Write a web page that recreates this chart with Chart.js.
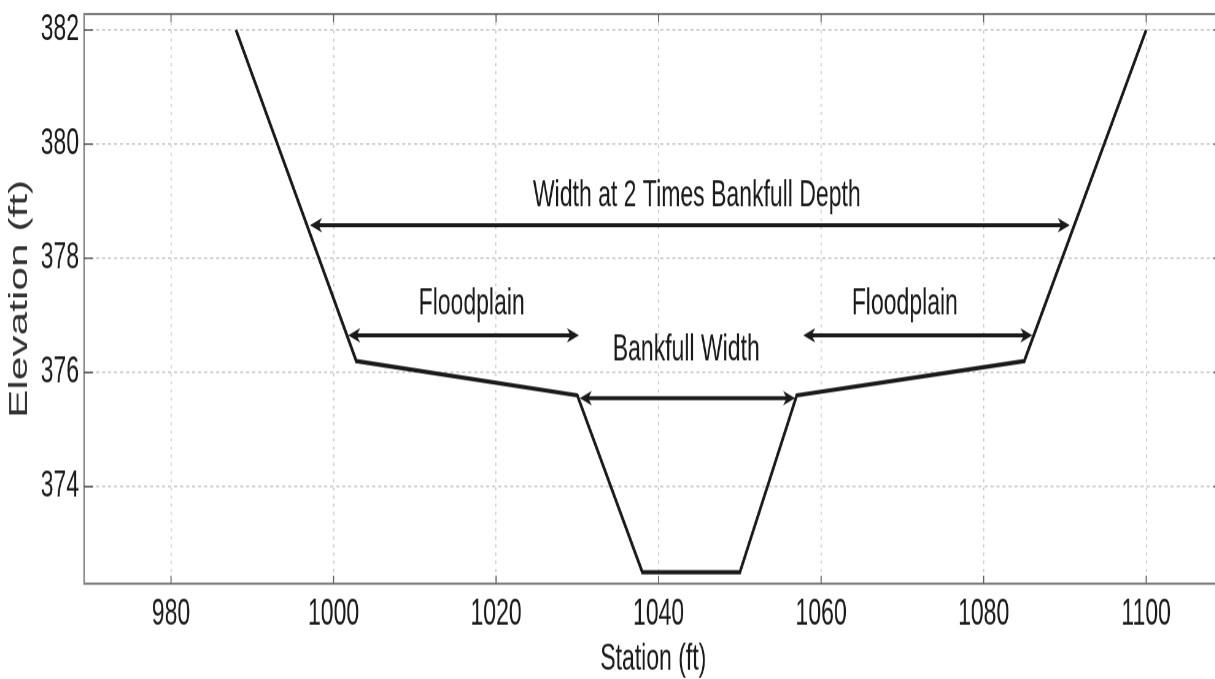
<!DOCTYPE html>
<html>
<head>
<meta charset="utf-8">
<script src="https://cdn.jsdelivr.net/npm/chart.js@4"></script>
<style>
  html, body { margin: 0; padding: 0; background: #fff; }
  #page { width: 1215px; height: 679px; overflow: hidden; position: relative; }
  /* the source figure was stretched vertically, so the whole chart is too */
  #wrap {
    position: absolute;
    left: 0; top: 0;
    width: 1230px;
    height: 416.6px;
    transform: scaleY(1.63);
    transform-origin: 0 0;
  }
</style>
</head>
<body>
<div id="page"><div id="wrap"><canvas id="xsec"></canvas></div></div>
<script>
/* ── Channel cross-section data ───────────────────────────────── */
const stations   = [988, 1002.8, 1030, 1038, 1050, 1057, 1085, 1100];
const elevations = [382, 376.2, 375.6, 372.5, 372.5, 375.6, 376.2, 382];

const xTicks = [980, 1000, 1020, 1040, 1060, 1080, 1100];
const yTicks = [374, 376, 378, 380, 382];

// annotation arrows: start station, end station, elevation
const arrowFrom = [997.1, 1001.8, 1057.8, 1030.3];
const arrowTo   = [1090.6, 1030.2, 1086.0, 1056.8];
const arrowElev = [378.58, 376.65, 376.65, 375.55];

// annotation labels: text, centre station, baseline elevation
const noteText = ['Width at 2 Times Bankfull Depth', 'Floodplain', 'Floodplain', 'Bankfull Width'];
const noteX    = [1044.7, 1017.0, 1070.3, 1043.4];
const noteY    = [378.92, 377.02, 377.02, 376.22];

const SANS = '"Liberation Sans", Arial, sans-serif';
const INK  = '#1a1a1a';

function head(ctx, x, y, dir) {
  ctx.beginPath();
  ctx.moveTo(x, y);
  ctx.lineTo(x - dir * 12, y - 4.4);
  ctx.lineTo(x - dir * 8.5, y);
  ctx.lineTo(x - dir * 12, y + 4.4);
  ctx.closePath();
  ctx.fill();
}

const frameAndNotes = {
  id: 'frameAndNotes',
  afterDatasetsDraw(chart) {
    const { ctx, chartArea: a, scales: { x, y } } = chart;
    ctx.save();

    // axes box + inward tick marks
    ctx.strokeStyle = '#7d7d7d';
    ctx.lineWidth = 1.4;
    ctx.strokeRect(a.left, a.top, a.right - a.left, a.bottom - a.top);
    ctx.lineWidth = 1;
    ctx.strokeStyle = '#555';
    ctx.beginPath();
    xTicks.forEach(v => {
      const px = x.getPixelForValue(v);
      ctx.moveTo(px, a.bottom); ctx.lineTo(px, a.bottom - 5);
      ctx.moveTo(px, a.top);    ctx.lineTo(px, a.top + 5);
    });
    yTicks.forEach(v => {
      const py = y.getPixelForValue(v);
      ctx.moveTo(a.left, py);  ctx.lineTo(a.left + 9, py);
      ctx.moveTo(a.right, py); ctx.lineTo(a.right - 9, py);
    });
    ctx.stroke();

    // arrows
    ctx.strokeStyle = INK;
    ctx.fillStyle = INK;
    ctx.lineWidth = 2.4;
    arrowFrom.forEach((s, i) => {
      const x1 = x.getPixelForValue(s);
      const x2 = x.getPixelForValue(arrowTo[i]);
      const py = y.getPixelForValue(arrowElev[i]);
      ctx.beginPath();
      ctx.moveTo(x1 + 6, py);
      ctx.lineTo(x2 - 6, py);
      ctx.stroke();
      head(ctx, x1, py, -1);
      head(ctx, x2, py, 1);
    });

    // labels
    ctx.font = `23px ${SANS}`;
    ctx.textAlign = 'center';
    ctx.textBaseline = 'alphabetic';
    noteText.forEach((t, i) => {
      ctx.fillText(t, x.getPixelForValue(noteX[i]), y.getPixelForValue(noteY[i]));
    });
    ctx.restore();
  }
};

new Chart(document.getElementById('xsec'), {
  type: 'scatter',
  data: {
    datasets: [{
      data: stations.map((s, i) => ({ x: s, y: elevations[i] })),
      showLine: true,
      borderColor: INK,
      borderWidth: 2.6,
      pointRadius: 0,
      tension: 0,
      fill: false,
    }],
  },
  plugins: [frameAndNotes],
  options: {
    responsive: true,
    maintainAspectRatio: false,
    devicePixelRatio: 1.63,
    animation: false,
    layout: { padding: { top: 8.6, right: 8, left: 0, bottom: 0 } },
    plugins: { legend: { display: false }, tooltip: { enabled: false } },
    scales: {
      x: {
        type: 'linear',
        min: 969.3,
        max: 1109.4,
        afterBuildTicks: s => { s.ticks = xTicks.map(v => ({ value: v })); },
        afterFit: s => { s.height = 58.9; s.paddingLeft = 0; s.paddingRight = 0; },
        ticks: {
          color: INK, font: { family: SANS, size: 23 }, padding: 5,
          autoSkip: false, maxRotation: 0, callback: v => String(v),
        },
        grid: { color: '#c4c4c4', lineWidth: 1, drawTicks: false },
        border: { display: false, dash: [2, 3] },
        title: {
          display: true, text: 'Station (ft)', color: INK,
          font: { family: SANS, size: 23 }, padding: { top: 0, bottom: -1 },
        },
      },
      y: {
        type: 'linear',
        min: 372.3,
        max: 382.28,
        afterBuildTicks: s => { s.ticks = yTicks.map(v => ({ value: v })); },
        afterFit: s => { s.width = 84; s.paddingTop = 0; s.paddingBottom = 0; },
        ticks: {
          color: INK, font: { family: SANS, size: 23 }, padding: 5,
          autoSkip: false, callback: v => String(v),
        },
        grid: { color: '#c4c4c4', lineWidth: 1, drawTicks: false },
        border: { display: false, dash: [3, 3] },
        title: {
          display: true, text: 'Elevation (ft)', color: '#333',
          font: { family: SANS, size: 26 }, padding: { top: 4, bottom: 0 },
        },
      },
    },
  },
});
</script>
</body>
</html>
